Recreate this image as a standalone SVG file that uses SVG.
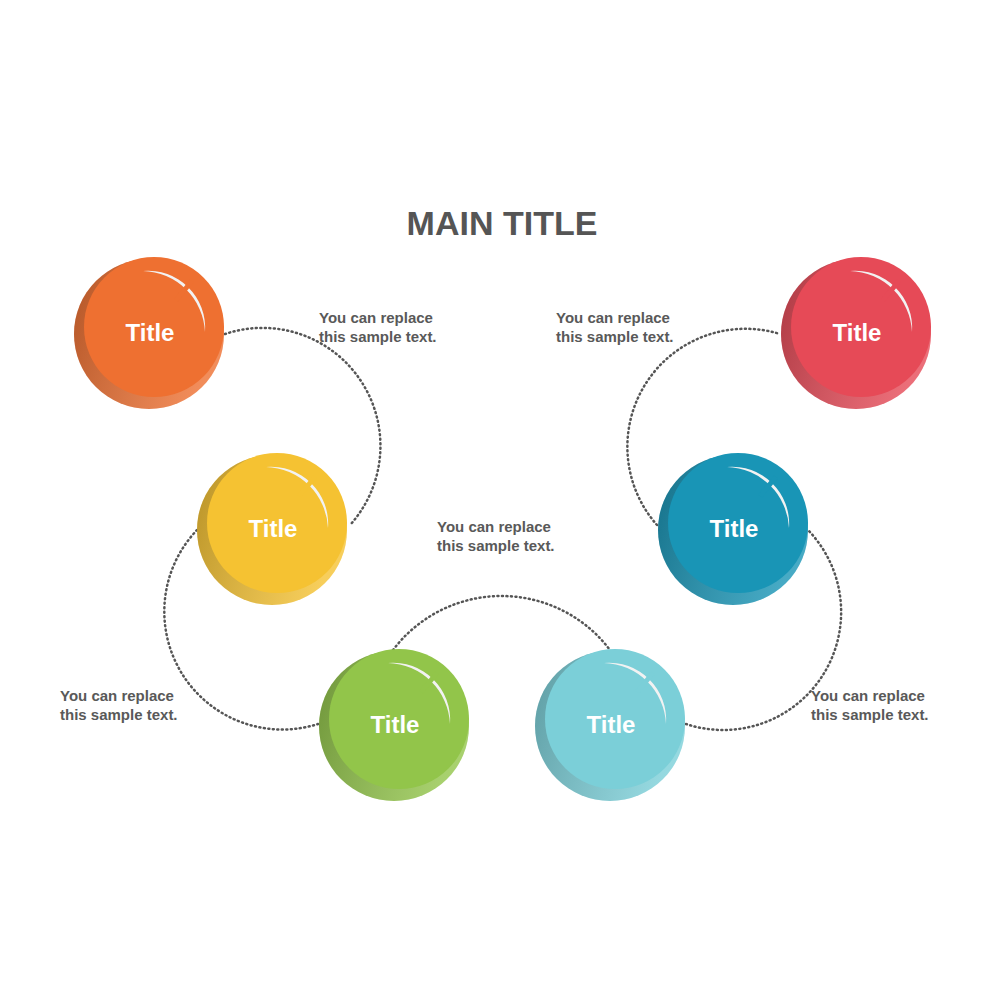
<svg xmlns="http://www.w3.org/2000/svg" width="1000" height="1000" viewBox="0 0 1000 1000">
<style>
.t{font-family:"Liberation Sans",Arial,sans-serif;font-weight:bold;fill:#595959;font-size:15px}
.bt{font-family:"Liberation Sans",Arial,sans-serif;font-weight:bold;fill:#fff;font-size:24px;text-anchor:middle}
.c{fill:none;stroke:#555;stroke-width:2.5;stroke-dasharray:1 3.5;stroke-linecap:round}
.hl{fill:#f2f2f2}
</style>
<defs>
<linearGradient id="sh" x1="0" y1="0" x2="1" y2="0.3"><stop offset="0" stop-color="#000" stop-opacity="0.25"/><stop offset="1" stop-color="#fff" stop-opacity="0.2"/></linearGradient>
<g id="hl"><path class="hl" d="M-11,-56 A57 57 0 0 1 51,5 A64 64 0 0 0 -11,-56 Z"/></g>
</defs>
<rect width="1000" height="1000" fill="#fff"/>
<text x="502" y="235" font-family="Liberation Sans,Arial,sans-serif" font-weight="bold" font-size="34" fill="#555" text-anchor="middle">MAIN TITLE</text>
<g id="connectors">
<path class="c" d="M225,334 A118 118 0 0 1 350,525"/>
<path class="c" d="M197,530 A118 118 0 0 0 318,724"/>
<path class="c" d="M393,650 A136 136 0 0 1 610,650"/>
<path class="c" d="M686,724 A118 118 0 0 0 808,530"/>
<path class="c" d="M657,525 A118 118 0 0 1 780,334"/>
</g>
<g id="n1" transform="translate(154,327)"><circle cx="-5" cy="7" r="75" fill="#ee7031"/><circle cx="-5" cy="7" r="75" fill="url(#sh)"/><circle r="70" fill="#ee7031"/><use href="#hl"/><line x1="22" y1="-27" x2="38" y2="-46" stroke="#ee7031" stroke-width="5"/><text class="bt" x="-4" y="14">Title</text></g>
<g id="n2" transform="translate(277,523)"><circle cx="-5" cy="7" r="75" fill="#f5c232"/><circle cx="-5" cy="7" r="75" fill="url(#sh)"/><circle r="70" fill="#f5c232"/><use href="#hl"/><line x1="22" y1="-27" x2="38" y2="-46" stroke="#f5c232" stroke-width="5"/><text class="bt" x="-4" y="14">Title</text></g>
<g id="n3" transform="translate(399,719)"><circle cx="-5" cy="7" r="75" fill="#92c54a"/><circle cx="-5" cy="7" r="75" fill="url(#sh)"/><circle r="70" fill="#92c54a"/><use href="#hl"/><line x1="22" y1="-27" x2="38" y2="-46" stroke="#92c54a" stroke-width="5"/><text class="bt" x="-4" y="14">Title</text></g>
<g id="n4" transform="translate(615,719)"><circle cx="-5" cy="7" r="75" fill="#7bcfd8"/><circle cx="-5" cy="7" r="75" fill="url(#sh)"/><circle r="70" fill="#7bcfd8"/><use href="#hl"/><line x1="22" y1="-27" x2="38" y2="-46" stroke="#7bcfd8" stroke-width="5"/><text class="bt" x="-4" y="14">Title</text></g>
<g id="n5" transform="translate(738,523)"><circle cx="-5" cy="7" r="75" fill="#1995b6"/><circle cx="-5" cy="7" r="75" fill="url(#sh)"/><circle r="70" fill="#1995b6"/><use href="#hl"/><line x1="22" y1="-27" x2="38" y2="-46" stroke="#1995b6" stroke-width="5"/><text class="bt" x="-4" y="14">Title</text></g>
<g id="n6" transform="translate(861,327)"><circle cx="-5" cy="7" r="75" fill="#e64a57"/><circle cx="-5" cy="7" r="75" fill="url(#sh)"/><circle r="70" fill="#e64a57"/><use href="#hl"/><line x1="22" y1="-27" x2="38" y2="-46" stroke="#e64a57" stroke-width="5"/><text class="bt" x="-4" y="14">Title</text></g>
<g id="labels">
<text class="t" x="319" y="323">You can replace</text><text class="t" x="319" y="342">this sample text.</text>
<text class="t" x="556" y="323">You can replace</text><text class="t" x="556" y="342">this sample text.</text>
<text class="t" x="437" y="532">You can replace</text><text class="t" x="437" y="551">this sample text.</text>
<text class="t" x="60" y="701">You can replace</text><text class="t" x="60" y="720">this sample text.</text>
<text class="t" x="811" y="701">You can replace</text><text class="t" x="811" y="720">this sample text.</text>
</g>
</svg>
